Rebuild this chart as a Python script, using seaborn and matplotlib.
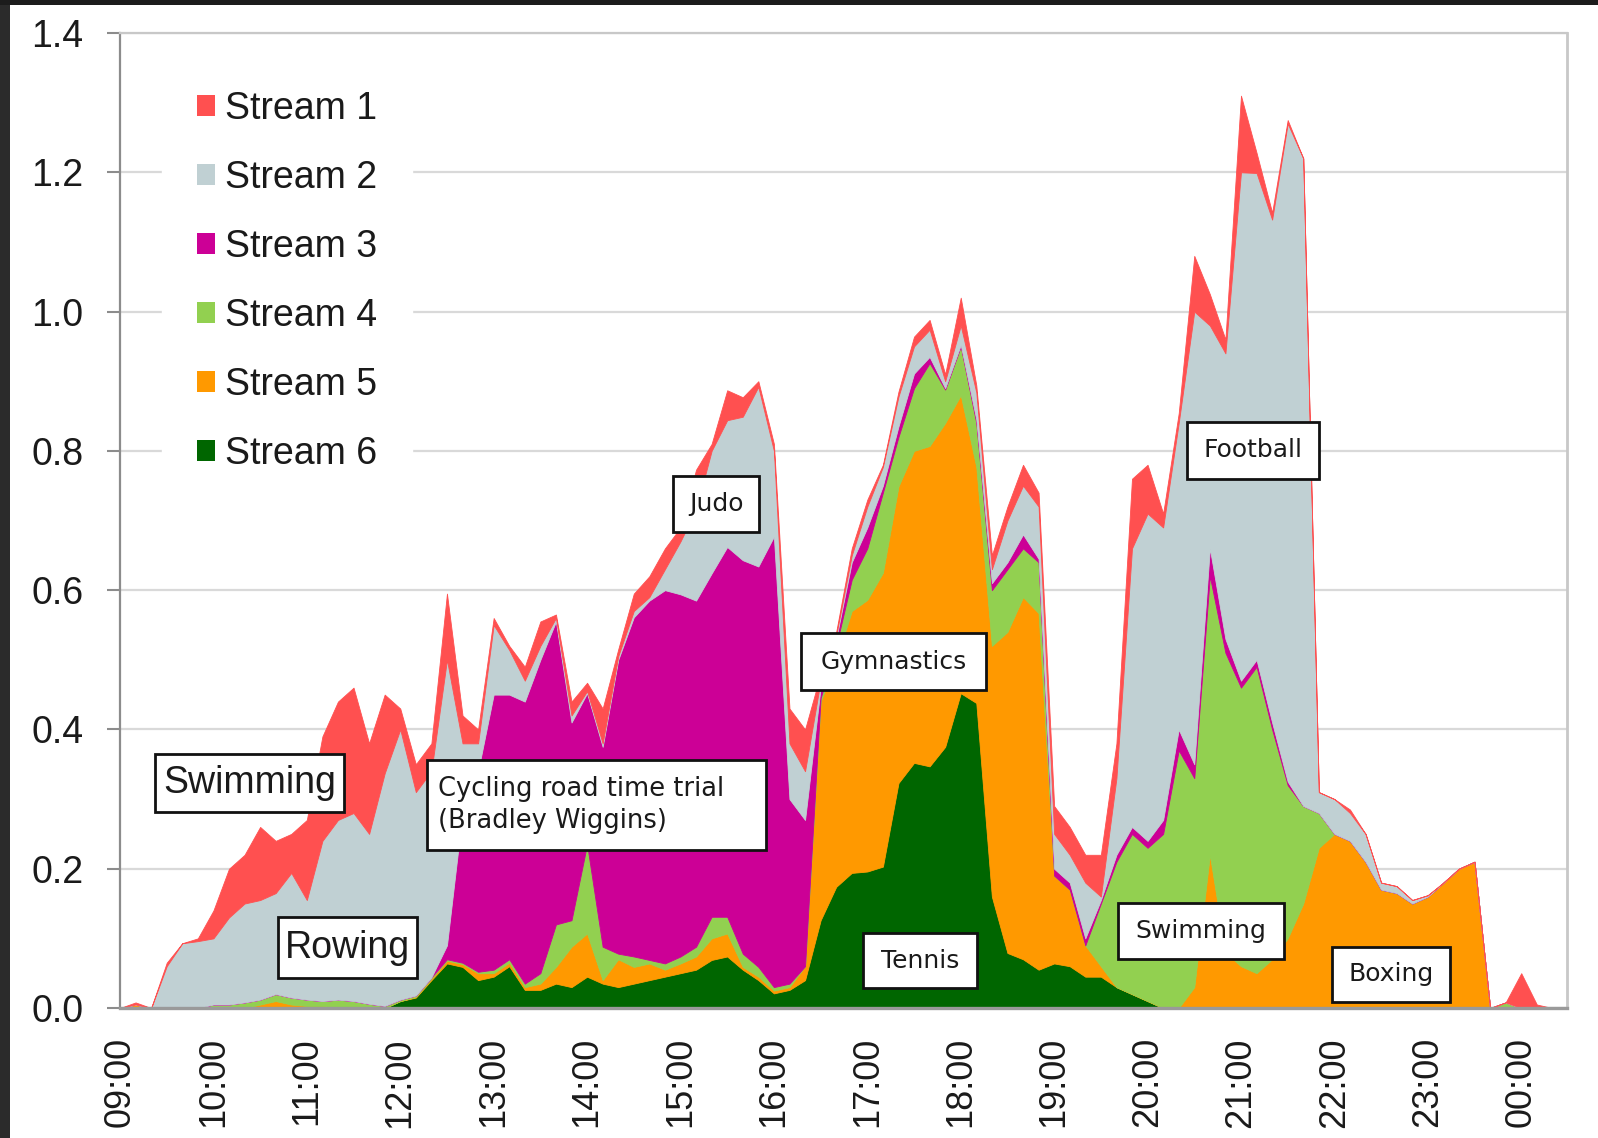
import pandas as pd
import matplotlib.pyplot as plt
import seaborn as sns
from matplotlib.patches import Patch, Rectangle

# 10-minute samples, 09:00 to 00:30 (1 Aug 2012)
times = pd.date_range("2012-08-01 09:00", "2012-08-02 00:30", freq="10min")

stream1 = [0, 0.003, 0, 0.005, 0, 0.004,
           0.04, 0.07, 0.07, 0.105, 0.075, 0.056,
           0.115, 0.15, 0.17, 0.18, 0.13, 0.113,
           0.03, 0.04, 0.04, 0.095, 0.04, 0.02,
           0.01, 0.006, 0.02, 0.035, 0.005, 0.02,
           0.012, 0.05, 0.01, 0.025, 0.03, 0.03,
           0.02, 0.057, 0.01, 0.043, 0.028, 0.008,
           0.01, 0.05, 0.06, 0.01, 0.005, 0.01,
           0.01, 0.003, 0.007, 0.014, 0.014, 0.01,
           0.04, 0.01, 0.02, 0.02, 0.03, 0.02,
           0.04, 0.04, 0.04, 0.06, 0.05, 0.10,
           0.07, 0.02, 0.014, 0.08, 0.045, 0.02,
           0.11, 0.029, 0.01, 0.005, 0, 0,
           0, 0.005, 0, 0, 0, 0,
           0, 0, 0, 0, 0, 0,
           0.05, 0.005, 0, 0]

stream2 = [0, 0, 0, 0.06, 0.093, 0.096,
           0.095, 0.125, 0.142, 0.143, 0.145, 0.179,
           0.143, 0.23, 0.258, 0.27, 0.244, 0.334,
           0.388, 0.292, 0.296, 0.41, 0.10, 0.04,
           0.10, 0.064, 0.03, 0.02, 0.005, 0.01,
           0.003, 0.005, 0.005, 0.009, 0.005, 0.03,
           0.076, 0.131, 0.176, 0.182, 0.206, 0.258,
           0.123, 0.08, 0.07, 0.01, 0.005, 0.01,
           0.03, 0.027, 0.043, 0.039, 0.039, 0.01,
           0.028, 0.039, 0.02, 0.06, 0.07, 0.075,
           0.05, 0.04, 0.08, 0.005, 0.11, 0.40,
           0.47, 0.42, 0.44, 0.65, 0.32, 0.41,
           0.73, 0.699, 0.722, 0.945, 0.93, 0.03,
           0.05, 0.04, 0.04, 0.01, 0.01, 0.005,
           0.002, 0, 0, 0, 0, 0,
           0, 0, 0, 0]

stream3 = [0, 0, 0, 0, 0, 0,
           0, 0, 0, 0, 0, 0,
           0, 0, 0, 0, 0, 0,
           0, 0, 0, 0.02, 0.215, 0.288,
           0.395, 0.38, 0.405, 0.45, 0.435, 0.284,
           0.217, 0.287, 0.422, 0.487, 0.516, 0.536,
           0.52, 0.497, 0.493, 0.531, 0.565, 0.575,
           0.647, 0.265, 0.21, 0.015, 0.01, 0.025,
           0.03, 0.01, 0.015, 0.021, 0.009, 0.002,
           0.002, 0.005, 0.01, 0.01, 0.02, 0.005,
           0.01, 0.01, 0.01, 0.005, 0.01, 0.01,
           0.01, 0.02, 0.03, 0.02, 0.04, 0.02,
           0.01, 0.01, 0.01, 0.005, 0, 0,
           0, 0, 0, 0, 0, 0,
           0, 0, 0, 0, 0, 0,
           0, 0, 0, 0]

stream4 = [0, 0, 0, 0, 0, 0,
           0.005, 0.005, 0.008, 0.007, 0.01, 0.01,
           0.009, 0.007, 0.012, 0.01, 0.006, 0.003,
           0.002, 0.002, 0.002, 0.002, 0.002, 0.002,
           0.005, 0.005, 0.005, 0.015, 0.061, 0.038,
           0.128, 0.048, 0.008, 0.015, 0.005, 0.009,
           0.01, 0.014, 0.031, 0.024, 0.019, 0.014,
           0.005, 0.005, 0, 0.005, 0.02, 0.045,
           0.074, 0.115, 0.071, 0.09, 0.119, 0.048,
           0.07, 0.063, 0.08, 0.09, 0.07, 0.073,
           0, 0, 0, 0.09, 0.18, 0.23,
           0.22, 0.25, 0.37, 0.30, 0.40, 0.43,
           0.40, 0.44, 0.33, 0.22, 0.14, 0.05,
           0, 0, 0, 0, 0, 0,
           0, 0, 0, 0, 0, 0.008,
           0, 0, 0, 0]

stream5 = [0, 0.005, 0, 0, 0, 0,
           0, 0, 0, 0.005, 0.01, 0.005,
           0.003, 0.003, 0, 0, 0, 0,
           0, 0.001, 0.002, 0.004, 0.004, 0.01,
           0.005, 0.005, 0.004, 0.009, 0.024, 0.058,
           0.062, 0.005, 0.04, 0.024, 0.024, 0.01,
           0.014, 0.019, 0.031, 0.033, 0.004, 0.005,
           0.004, 0.004, 0.02, 0.314, 0.326, 0.376,
           0.39, 0.422, 0.426, 0.448, 0.46, 0.465,
           0.428, 0.339, 0.36, 0.461, 0.52, 0.512,
           0.126, 0.11, 0.045, 0.015, 0, 0,
           0, 0, 0, 0.03, 0.22, 0.08,
           0.06, 0.05, 0.07, 0.10, 0.15, 0.23,
           0.25, 0.24, 0.21, 0.17, 0.165, 0.15,
           0.16, 0.18, 0.20, 0.21, 0, 0,
           0, 0, 0, 0]

stream6 = [0, 0, 0, 0, 0, 0,
           0, 0, 0, 0, 0, 0,
           0, 0, 0, 0, 0, 0,
           0.01, 0.015, 0.04, 0.064, 0.059, 0.04,
           0.045, 0.06, 0.026, 0.026, 0.035, 0.03,
           0.045, 0.035, 0.03, 0.035, 0.04, 0.045,
           0.05, 0.055, 0.069, 0.074, 0.055, 0.04,
           0.021, 0.026, 0.04, 0.126, 0.174, 0.194,
           0.196, 0.203, 0.323, 0.352, 0.347, 0.375,
           0.452, 0.438, 0.16, 0.079, 0.07, 0.055,
           0.064, 0.06, 0.045, 0.045, 0.03, 0.02,
           0.01, 0, 0, 0, 0, 0,
           0, 0, 0, 0, 0, 0,
           0, 0, 0, 0, 0, 0,
           0, 0, 0, 0, 0, 0,
           0, 0, 0, 0]

stream_names = ["Stream 1", "Stream 2", "Stream 3", "Stream 4", "Stream 5", "Stream 6"]
stream_colors = ["#FF5050", "#C0D0D3", "#CC0096", "#92D050", "#FF9900", "#006600"]

hour_ticks = list(range(9, 25))
hour_labels = ["09:00", "10:00", "11:00", "12:00", "13:00", "14:00", "15:00", "16:00",
               "17:00", "18:00", "19:00", "20:00", "21:00", "22:00", "23:00", "00:00"]

# label, box (left, top, right, bottom) in pixels of the 1598x1138 picture
events = [
    ("Swimming", (155, 754, 344, 812), "Liberation Sans", 27),
    ("Rowing", (278, 917, 417, 978), "Liberation Sans", 27),
    ("Cycling road time trial\n(Bradley Wiggins)", (427, 760, 766, 850), "DejaVu Sans", 18.5),
    ("Judo", (673, 476, 759, 532), "DejaVu Sans", 18),
    ("Gymnastics", (801, 633, 986, 690), "DejaVu Sans", 18),
    ("Tennis", (863, 933, 977, 988), "DejaVu Sans", 18),
    ("Football", (1187, 422, 1319, 479), "DejaVu Sans", 18),
    ("Swimming", (1118, 903, 1284, 959), "DejaVu Sans", 18),
    ("Boxing", (1332, 947, 1450, 1002), "DejaVu Sans", 18),
]

sns.set_style("white")
plt.rcParams["font.family"] = ["Liberation Sans", "DejaVu Sans"]

W, H = 1598, 1138
fig = plt.figure(figsize=(W / 100, H / 100), dpi=100)
ax = fig.add_axes([120 / W, 1 - 1008 / H, (1567 - 120) / W, (1008 - 33) / H])

hours = (times - times[0].normalize()) / pd.Timedelta(hours=1)

# stacked bottom-up: Stream 6 first, Stream 1 on top
layers = [stream6, stream5, stream4, stream3, stream2, stream1]
polys = ax.stackplot(hours, layers, colors=stream_colors[::-1], linewidth=0)
for p, c in zip(polys, stream_colors[::-1]):
    p.set_edgecolor(c)
    p.set_linewidth(0.6)

ax.set_xlim(9, 24.49)
ax.set_ylim(0, 1.4)
ax.set_yticks([0, 0.2, 0.4, 0.6, 0.8, 1.0, 1.2, 1.4])
ax.set_yticklabels([f"{v:.1f}" for v in ax.get_yticks()])
ax.set_xticks(hour_ticks)
ax.set_xticklabels(hour_labels, rotation=90)

ax.set_axisbelow(True)
ax.yaxis.grid(True, color="#d9d9d9", linewidth=1.6)
ax.xaxis.grid(False)

ax.tick_params(axis="y", left=True, length=9.5, width=1.5, color="#8c8c8c",
               pad=17, labelsize=27, labelcolor="#1a1a1a")
ax.tick_params(axis="x", bottom=False, length=0, pad=21, labelsize=26, labelcolor="#1a1a1a")

for side, col, lw in [("left", "#8c8c8c", 1.6), ("bottom", "#9a9a9a", 2.4),
                      ("top", "#c8c8c8", 1.6), ("right", "#c8c8c8", 2.0)]:
    ax.spines[side].set_visible(True)
    ax.spines[side].set_color(col)
    ax.spines[side].set_linewidth(lw)

handles = [Patch(facecolor=c, edgecolor="none") for c in stream_colors]
leg = ax.legend(handles, stream_names, loc="upper left",
                bbox_to_anchor=(162 / W, 1 - 56 / H), bbox_transform=fig.transFigure,
                fontsize=27, frameon=True, fancybox=False, framealpha=1,
                facecolor="white", edgecolor="white", borderpad=0.93, borderaxespad=0,
                handlelength=0.48, handleheight=0.48, handletextpad=0.27,
                labelspacing=0.88)
for t in leg.get_texts():
    t.set_color("#1a1a1a")

# annotation boxes
for label, (x0, y0, x1, y1), fam, fs in events:
    fig.add_artist(Rectangle((x0 / W, 1 - y1 / H), (x1 - x0) / W, (y1 - y0) / H,
                             transform=fig.transFigure, facecolor="white",
                             edgecolor="#111111", linewidth=2, zorder=5))
    if "\n" in label:
        fig.text((x0 + 11) / W, 1 - (y0 + y1) / 2 / H, label, ha="left", va="center",
                 family=fam, fontsize=fs, color="#1a1a1a", linespacing=1.25, zorder=6)
    else:
        fig.text((x0 + x1) / 2 / W, 1 - (y0 + y1) / 2 / H, label, ha="center", va="center",
                 family=fam, fontsize=fs, color="#1a1a1a", zorder=6)

# dark screenshot edges
fig.add_artist(Rectangle((0, 0), 10 / W, 1, transform=fig.transFigure,
                         facecolor="#2b2b2b", edgecolor="none", zorder=7))
fig.add_artist(Rectangle((0, 1 - 5 / H), 1, 5 / H, transform=fig.transFigure,
                         facecolor="#1c1c1c", edgecolor="none", zorder=7))

fig.savefig("out.png", dpi=100)
